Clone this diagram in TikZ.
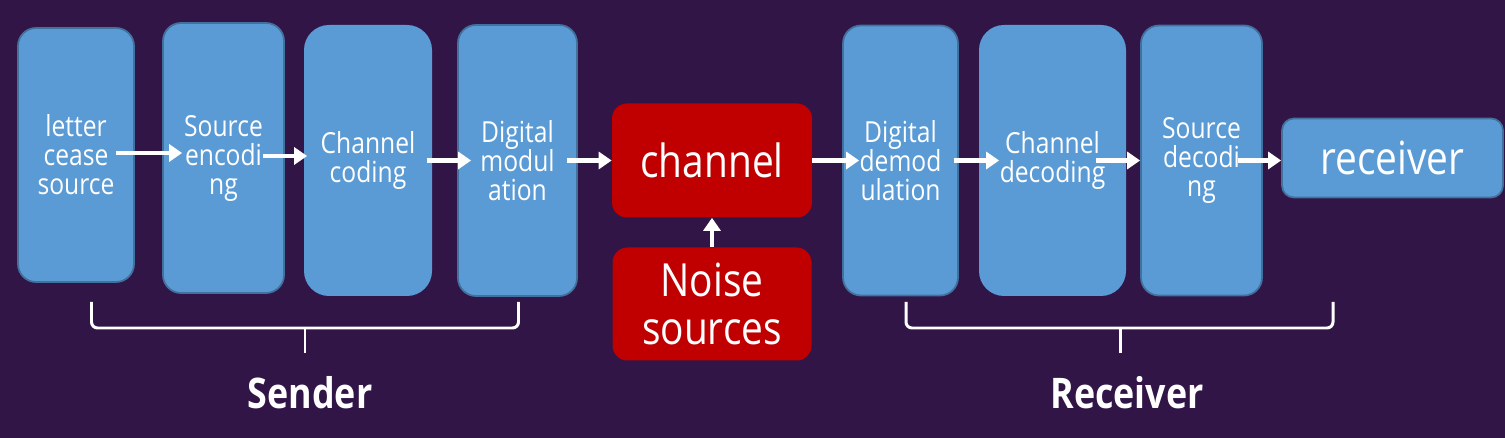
\documentclass[tikz,border=0pt]{standalone}
\usepackage{fontspec}
\setmainfont{Open Sans}[FakeStretch=0.85]
\usetikzlibrary{arrows.meta}
\definecolor{bgpurple}{RGB}{49,21,71}
\definecolor{boxblue}{RGB}{91,155,213}
\definecolor{boxedge}{RGB}{65,113,156}
\definecolor{boxred}{RGB}{192,0,0}

\tikzstyle{block} = [rectangle, rounded corners=0.36cm, 
minimum width=2.4cm, 
minimum height=5.4cm,
text centered, align=center, 
text=white, 
draw=boxedge, line width=1pt, 
fill=boxblue,
font=\fontsize{16.5}{16.5}\selectfont]
\tikzstyle{softblock} = [block, draw=none, rounded corners=0.5cm]
\tikzstyle{redbox} = [rectangle, rounded corners=0.3cm, 
minimum width=4cm, 
minimum height=2.28cm, 
text centered, align=center, 
text=white, fill=boxred,
font=\fontsize{26}{27}\selectfont]
\tikzstyle{arrow} = [line width=2.4pt, white, -{Triangle[length=0.26cm,width=0.34cm]}]
\tikzstyle{brace} = [line width=1.7pt, white, rounded corners=0.12cm]
\tikzstyle{side} = [text=white, font=\bfseries\fontsize{24}{26}\selectfont]

\begin{document}
\begin{tikzpicture}[node distance=2.0cm]

\useasboundingbox (0,0) rectangle (30.1,-8.76);
\fill[bgpurple] (0,0) rectangle (30.1,-8.76);

% sender side
\node (lcs) [block, minimum width=2.32cm, minimum height=5.08cm] at (1.52,-3.10) {letter\\cease\\source};
\node (senc) [block, right of=lcs, xshift=0.95cm, yshift=-0.06cm, minimum width=2.42cm] {Source\\encodi\\ng};
\node (ccod) [softblock, right of=senc, xshift=0.89cm, yshift=-0.05cm, minimum width=2.56cm, minimum height=5.42cm] {Channel\\coding};
\node (dmod) [block, right of=ccod, xshift=0.99cm, minimum width=2.38cm, minimum height=5.42cm] {Digital\\modul\\ation};

% channel and noise
\node (chan) [redbox, right of=dmod, xshift=1.89cm] {channel};
\node (noise) [redbox, below of=chan, yshift=-0.87cm, minimum width=3.98cm, minimum height=2.26cm] {Noise\\sources};

% receiver side
\node (ddem) [block, right of=chan, xshift=1.77cm, minimum width=2.30cm] {Digital\\demod\\ulation};
\node (cdec) [softblock, right of=ddem, xshift=1.04cm, minimum width=2.94cm, minimum height=5.42cm] {Channel\\decoding};
\node (sdec) [block, right of=cdec, xshift=0.98cm, minimum width=2.42cm] {Source\\decodi\\ng};
\node (recv) [block, right of=sdec, xshift=1.82cm, yshift=0.05cm, minimum width=4.42cm, minimum height=1.58cm, rounded corners=0.24cm, font=\fontsize{26}{27}\selectfont] {receiver};

\draw [arrow] ([xshift=-0.38cm,yshift=0.04cm]lcs.east) -- ([xshift=0.4cm,yshift=0.04cm]lcs.east -| senc.west);
\draw [arrow] ([xshift=-0.44cm,yshift=0.04cm]senc.east) -- ([xshift=0.08cm,yshift=0.04cm]senc.east -| ccod.west);
\draw [arrow] ([xshift=-0.12cm]ccod.east) -- ([xshift=0.28cm]ccod.east -| dmod.west);
\draw [arrow] ([xshift=-0.22cm]dmod.east) -- (dmod.east -| chan.west);
\draw [arrow] (chan.east) -- ([xshift=0.34cm]chan.east -| ddem.west);
\draw [arrow] ([xshift=-0.1cm]ddem.east) -- ([xshift=0.42cm]ddem.east -| cdec.west);
\draw [arrow] ([xshift=-0.62cm]cdec.east) -- (cdec.east -| sdec.west);
\draw [arrow] ([xshift=-0.5cm]sdec.east) -- (sdec.east -| recv.west);
\draw [arrow] (noise.north) -- (chan.south);

% braces
\draw [brace] (1.83,-6.04) -- (1.83,-6.56) -- (6.1,-6.56);
\draw [brace] (10.37,-6.04) -- (10.37,-6.56) -- (6.1,-6.56);
\draw [brace] (6.1,-6.56) -- (6.1,-7.06);
\draw [brace] (18.12,-6.04) -- (18.12,-6.56) -- (22.4,-6.56);
\draw [brace] (26.66,-6.04) -- (26.66,-6.56) -- (22.4,-6.56);
\draw [brace] (22.4,-6.56) -- (22.4,-7.06);

\node (send) [side] at (6.2,-7.86) {Sender};
\node (rece) [side] at (22.54,-7.86) {Receiver};

\end{tikzpicture}
\end{document}
